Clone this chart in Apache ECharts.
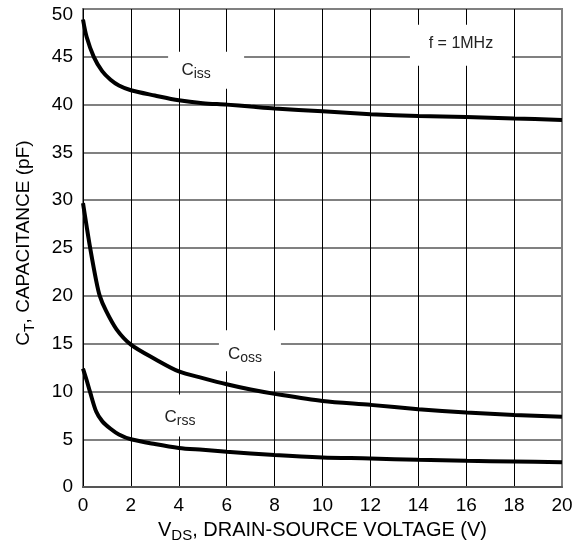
<!DOCTYPE html>
<html>
<head>
<meta charset="utf-8">
<script src="https://cdn.jsdelivr.net/npm/echarts@6/dist/echarts.min.js"></script>
<style>html,body{margin:0;padding:0;background:#fff;}#c{width:583px;height:548px;}</style>
</head>
<body>
<div id="c"></div>
<script>
// Data (VDS in V, capacitance in pF)
const xTicks = [0, 2, 4, 6, 8, 10, 12, 14, 16, 18, 20];
const yTicks = [0, 5, 10, 15, 20, 25, 30, 35, 40, 45, 50];
const ciss = [[0,48.9],[0.15,47.1],[0.45,45],[0.8,43.5],[1.15,42.6],[1.5,42],[2,41.5],[3,40.95],[4,40.45],[5,40.15],[6,40.0],[7,39.8],[8,39.6],[10,39.3],[12,39.0],[14,38.8],[16,38.7],[18,38.55],[20,38.4]];
const coss = [[0,29.7],[0.15,27.3],[0.3,25],[0.55,21.6],[0.7,20],[0.95,18.5],[1.4,16.5],[2,14.9],[3,13.4],[4,12.1],[5,11.4],[6,10.75],[7,10.2],[8,9.75],[10,9.0],[12,8.6],[14,8.15],[16,7.8],[18,7.55],[20,7.35]];
const crss = [[0,12.4],[0.15,11.2],[0.3,9.9],[0.55,7.9],[0.8,6.9],[1.15,6.1],[1.5,5.5],[2,5.0],[3,4.5],[4,4.1],[5,3.9],[6,3.7],[8,3.35],[10,3.1],[12,3.0],[14,2.85],[16,2.75],[18,2.68],[20,2.6]];
const labels = [
  {name: 'Ciss', main: 'C', sub: 'iss', coord: [5.14, 43.6], size: [76, 37], shift: [-10, 0]},
  {name: 'Coss', main: 'C', sub: 'oss', coord: [6.97, 14.25], size: [62, 41], shift: [-5, 3]},
  {name: 'Crss', main: 'C', sub: 'rss', coord: [4.05, 7.5], size: [60, 42], shift: [0, 2]},
  {name: 'f', main: 'f = 1MHz', sub: '', coord: [15.78, 46.2], size: [102, 41], shift: [0, -2]}
];

const FONT = '"Liberation Sans", Arial, sans-serif';
const chart = echarts.init(document.getElementById('c'), null, {renderer: 'canvas'});

function lineSeries(name, data, extra) {
  return Object.assign({
    name: name, type: 'line', data: data, smooth: 0.3,
    showSymbol: false, symbol: 'none',
    lineStyle: {color: '#000', width: 4},
    z: 3
  }, extra || {});
}

const markData = labels.map(l => ({
  coord: l.coord,
  symbol: 'rect',
  symbolSize: l.size,
  itemStyle: {color: '#fff'},
  label: {
    show: true, position: 'inside', offset: l.shift,
    formatter: l.sub ? '{m|' + l.main + '}{s|' + l.sub + '}' : '{f|' + l.main + '}',
    rich: {
      m: {fontFamily: FONT, fontSize: 17, color: '#222', lineHeight: 22, verticalAlign: 'middle'},
      s: {fontFamily: FONT, fontSize: 14, color: '#222', lineHeight: 22, verticalAlign: 'bottom'},
      f: {fontFamily: FONT, fontSize: 16, color: '#222'}
    }
  }
}));

const yMax = yTicks[yTicks.length - 1];

chart.setOption({
  animation: false,
  backgroundColor: '#fff',
  grid: {left: 83, right: 21, top: 9, bottom: 60, show: true, borderColor: '#808080', borderWidth: 2, backgroundColor: 'transparent'},
  xAxis: {
    type: 'value', min: xTicks[0], max: xTicks[xTicks.length - 1], interval: 2,
    axisLine: {show: true, lineStyle: {color: '#555', width: 2}},
    axisTick: {show: false},
    axisLabel: {color: '#000', fontFamily: FONT, fontSize: 19, margin: 9},
    splitLine: {show: true, showMinLine: false, showMaxLine: false, lineStyle: {color: '#000', width: 1}},
    name: '{a|V}{s|DS}{a|, DRAIN-SOURCE VOLTAGE (V)}',
    nameLocation: 'middle', nameGap: 29,
    nameTextStyle: {
      rich: {
        a: {fontFamily: FONT, fontSize: 20, color: '#000', lineHeight: 26, verticalAlign: 'middle'},
        s: {fontFamily: FONT, fontSize: 15, color: '#000', lineHeight: 26, verticalAlign: 'bottom'}
      }
    }
  },
  yAxis: {
    type: 'value', min: yTicks[0], max: yMax, interval: 5,
    axisLine: {show: true, lineStyle: {color: '#000', width: 1}},
    axisTick: {show: false},
    axisLabel: {
      color: '#000', fontFamily: FONT, fontSize: 19, margin: 10,
      formatter: v => v === yMax ? '{t|' + v + '}' : '{n|' + v + '}',
      rich: {
        n: {fontFamily: FONT, fontSize: 19, color: '#000'},
        t: {fontFamily: FONT, fontSize: 19, color: '#000', padding: [12, 0, 0, 0]}
      }
    },
    splitLine: {show: true, showMinLine: false, lineStyle: {color: '#808080', width: 2}},
    name: '{a|C}{s|T}{a|, CAPACITANCE (pF)}',
    nameLocation: 'middle', nameGap: 46, nameRotate: 90,
    nameTextStyle: {
      padding: [0, 0, 0, 10],
      rich: {
        a: {fontFamily: FONT, fontSize: 19, color: '#000', lineHeight: 26, verticalAlign: 'middle'},
        s: {fontFamily: FONT, fontSize: 14, color: '#000', lineHeight: 26, verticalAlign: 'bottom'}
      }
    }
  },
  series: [
    lineSeries('Ciss', ciss, {markPoint: {silent: true, z: 2, data: markData}}),
    lineSeries('Coss', coss),
    lineSeries('Crss', crss)
  ]
});
</script>
</body>
</html>
